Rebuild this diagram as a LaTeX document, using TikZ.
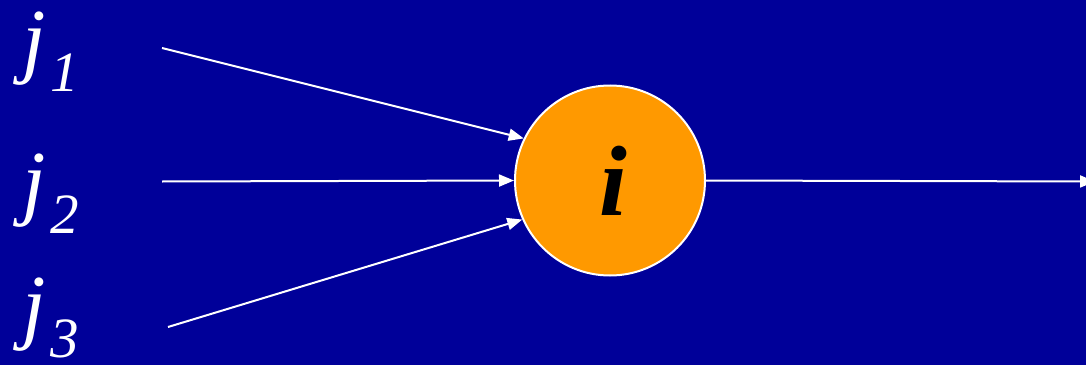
\documentclass[tikz,border=0pt]{standalone}
\usepackage{fontspec}
\setmainfont{Liberation Serif}
\usetikzlibrary{arrows.meta}
\definecolor{bgblue}{HTML}{000099}
\definecolor{nodeorange}{HTML}{FF9900}
\tikzset{
  lbl/.style={text=white, inner sep=0pt, anchor=base west, font=\fontsize{84}{96}\selectfont\itshape},
  neuron/.style={circle, draw=white, line width=2pt, fill=nodeorange, minimum size=190pt, inner sep=0pt,
    font=\fontsize{100}{120}\selectfont\bfseries\itshape, text=black},
  link/.style={draw=white, line width=2pt, -{Triangle[length=15pt,width=12pt]}}
}
\newcommand{\sub}[1]{\hspace{5pt}\raisebox{-24pt}{\fontsize{57}{60}\selectfont #1}}
\begin{document}
\begin{tikzpicture}[x=1pt,y=1pt]
\clip (0,0) rectangle (1086,365);
\fill[bgblue] (0,0) rectangle (1086,365);
\node[lbl] (j1) at (22,298) {j\sub{1}};
\node[lbl] (j2) at (22,156) {j\sub{2}};
\node[lbl] (j3) at (22,32) {j\sub{3}};
\node[neuron] (i) at (610,184.5) {\hspace{6pt}i};
\coordinate (s1) at (162,317);
\coordinate (s2) at (162,183.5);
\coordinate (s3) at (168,38);
\coordinate (out) at (1095,183.5);
\draw[link] (s1) -- (i.154);
\draw[link] (s2) -- (i.west);
\draw[link] (s3) -- (i.204);
\draw[link] (i.east) -- (out);
\end{tikzpicture}
\end{document}
